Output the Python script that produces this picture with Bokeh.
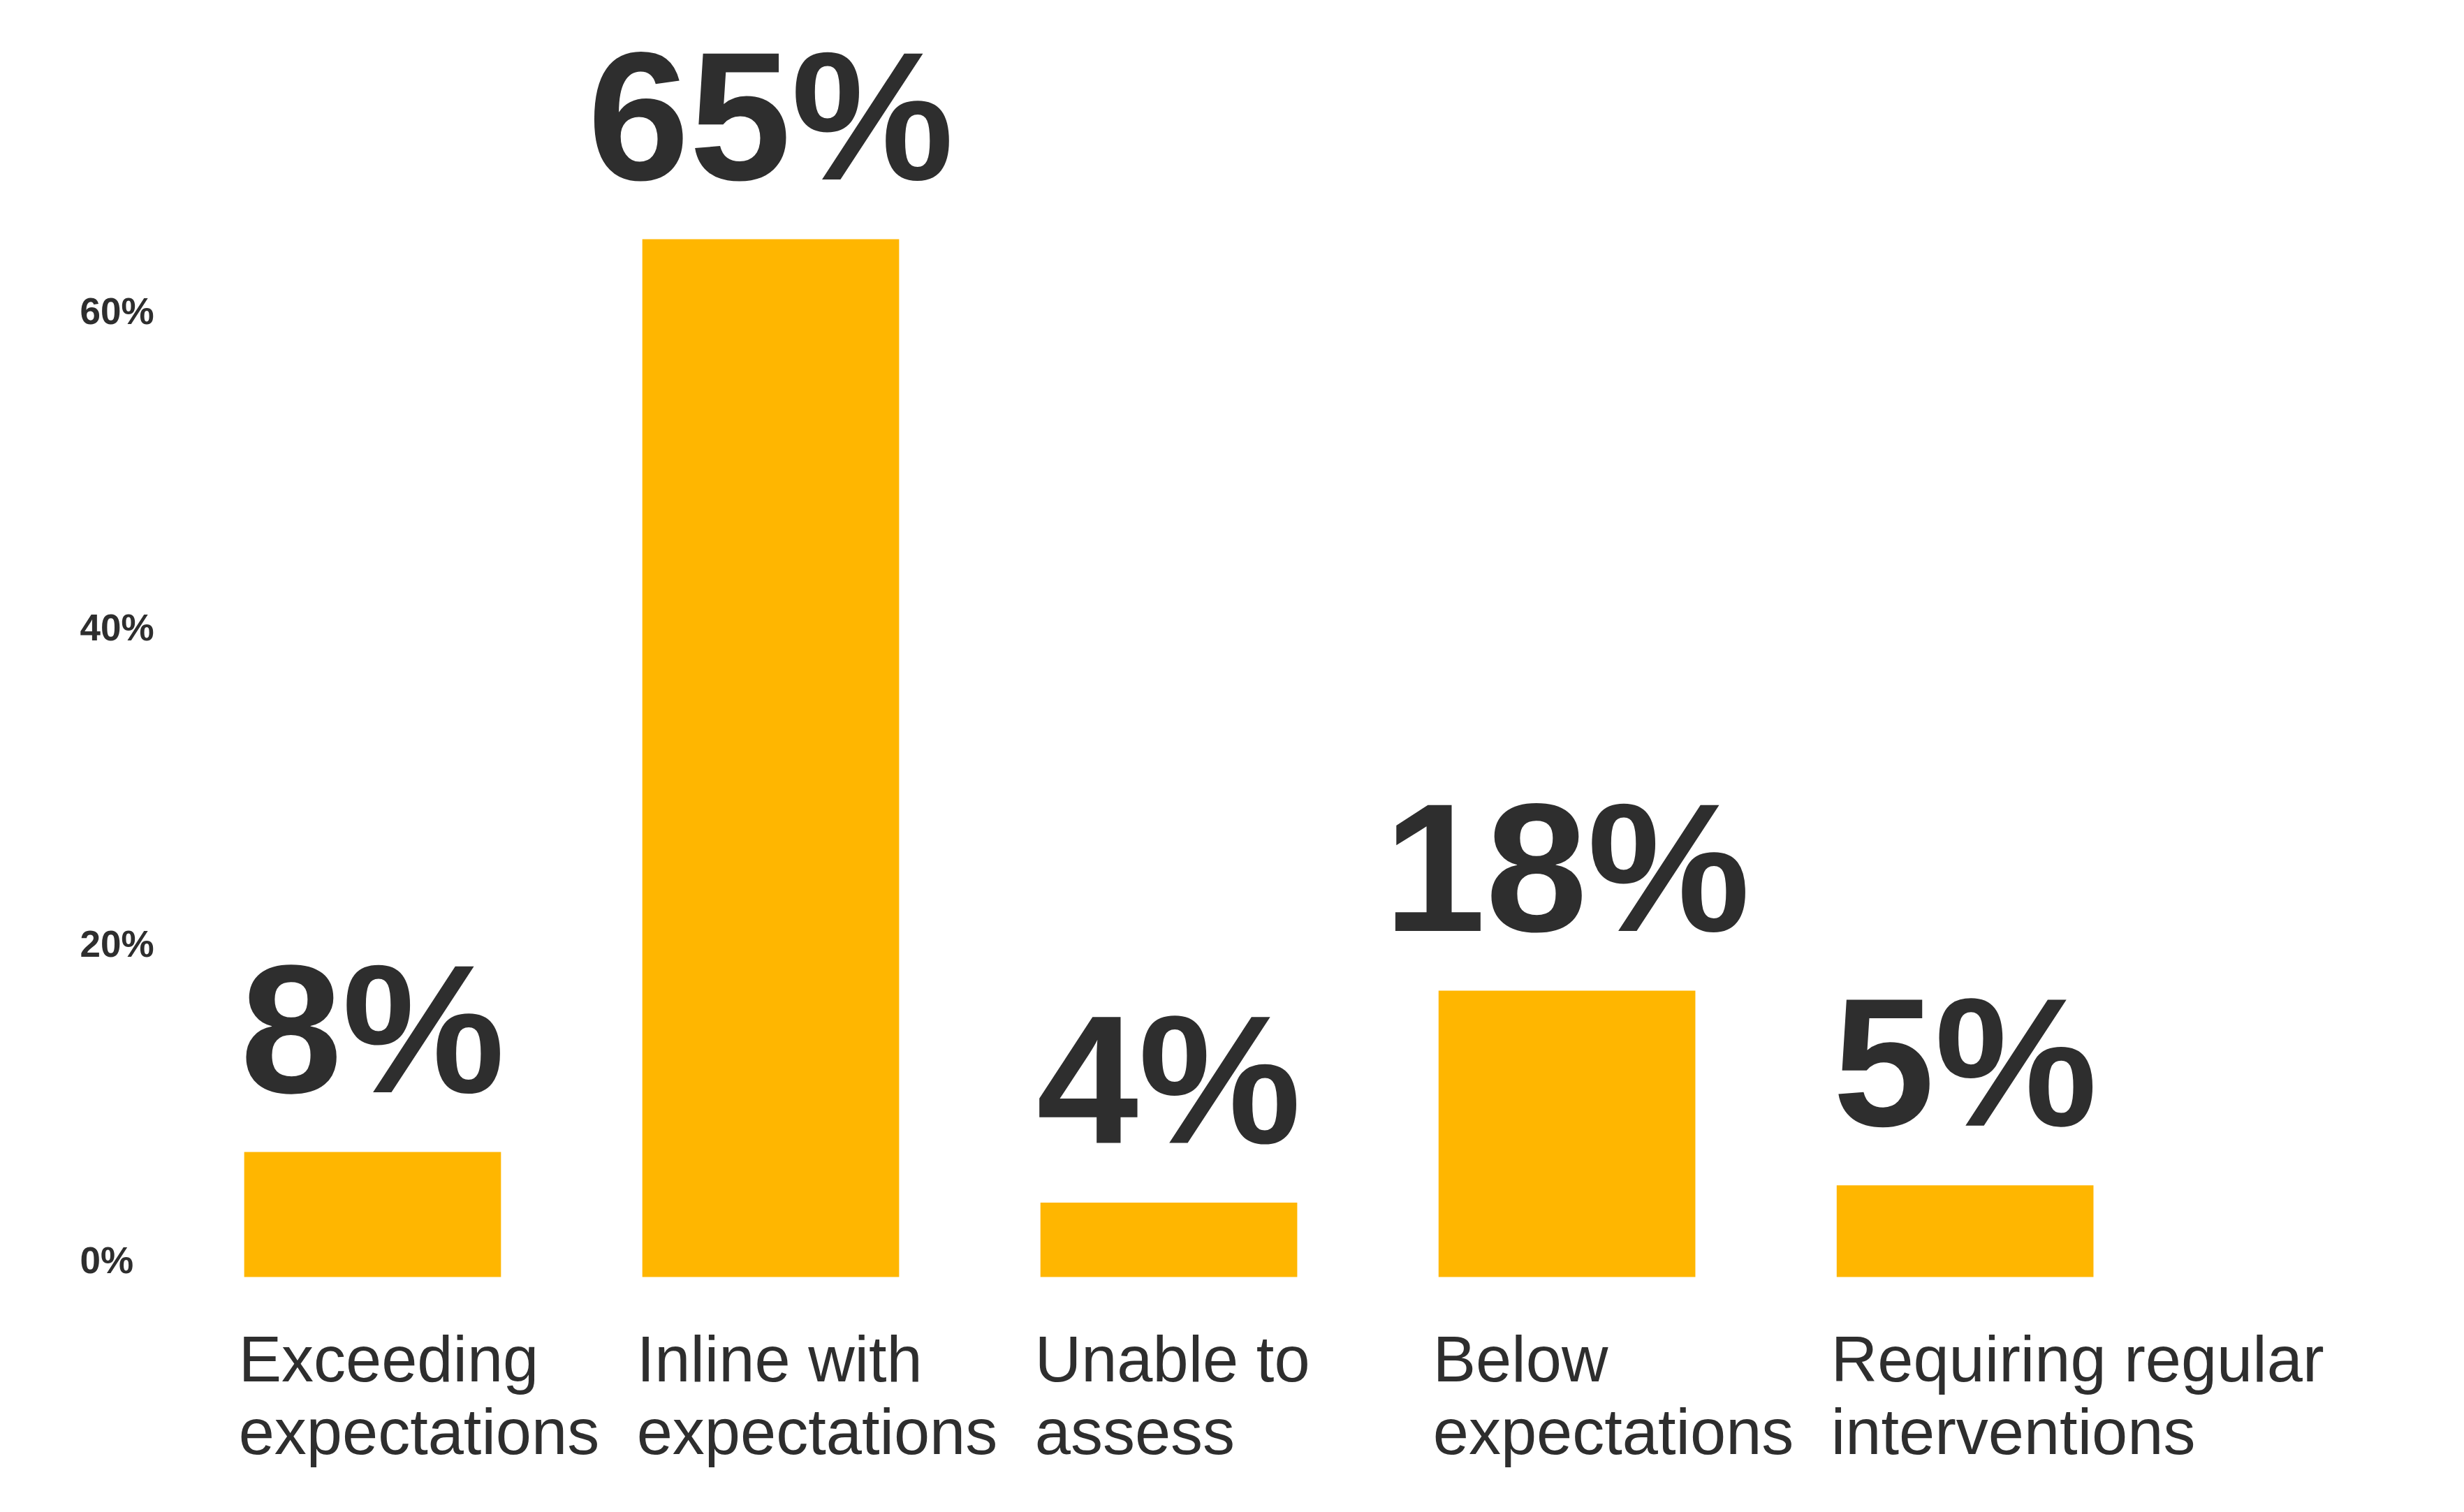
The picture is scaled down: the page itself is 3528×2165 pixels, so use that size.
from bokeh.plotting import figure
from bokeh.models import ColumnDataSource, Range1d
from bokeh.core.properties import value
from bokeh.embed import file_html
from bokeh.resources import INLINE

# ---- data ----
categories = ["Exceeding\nexpectations", "Inline with\nexpectations", "Unable to\nassess",
              "Below\nexpectations", "Requiring regular\ninterventions"]
bar_values = [7.9, 65.6, 4.7, 18.1, 5.8]
value_labels = ["8%", "65%", "4%", "18%", "5%"]
y_ticks = [0, 20, 40, 60]
y_tick_labels = ["0%", "20%", "40%", "60%"]

# ---- styling ----
BAR_COLOR = "#FFB600"
TEXT_COLOR = "#2e2e2e"
FONT = "Liberation Sans"
BAR_W = 0.645
W, H = 3512, 2149

xs = list(range(len(categories)))
src = ColumnDataSource(dict(
    x=xs,
    left=[x - BAR_W / 2 for x in xs],
    top=bar_values,
    cat=categories,
    lab=value_labels,
))

p = figure(width=W, height=H, output_backend="svg", toolbar_location=None,
           x_range=Range1d(-0.935, 5.226), y_range=Range1d(-14.17, 80.7),
           min_border=0, min_border_left=0, min_border_right=0,
           min_border_top=0, min_border_bottom=0)
p.xaxis.visible = False
p.yaxis.visible = False
p.grid.visible = False
p.outline_line_color = None
p.background_fill_color = "white"
p.border_fill_color = "white"

p.vbar(x="x", top="top", bottom=0, width=BAR_W, source=src,
       fill_color=BAR_COLOR, line_color=None)

# value labels above bars
p.text(x="x", y="top", text="lab", source=src,
       text_font=value(FONT), text_font_style="bold", text_font_size="262px",
       text_color=TEXT_COLOR, text_align="center", text_baseline="alphabetic",
       y_offset=-176)

# category labels below bars (left aligned to bar edge)
p.text(x="left", y=0, text="cat", source=src,
       text_font=value(FONT), text_font_size="92px", text_color=TEXT_COLOR,
       text_align="left", text_baseline="top", text_line_height=1.02,
       x_offset=-8, y_offset=66)

# y tick labels sitting on their tick values
tick_src = ColumnDataSource(dict(y=y_ticks, t=y_tick_labels))
p.text(x=-0.735, y="y", text="t", source=tick_src,
       text_font=value(FONT), text_font_style="bold", text_font_size="53px",
       text_color=TEXT_COLOR, text_align="left", text_baseline="alphabetic",
       y_offset=-24)

open("out.html", "w").write(file_html(p, INLINE))
